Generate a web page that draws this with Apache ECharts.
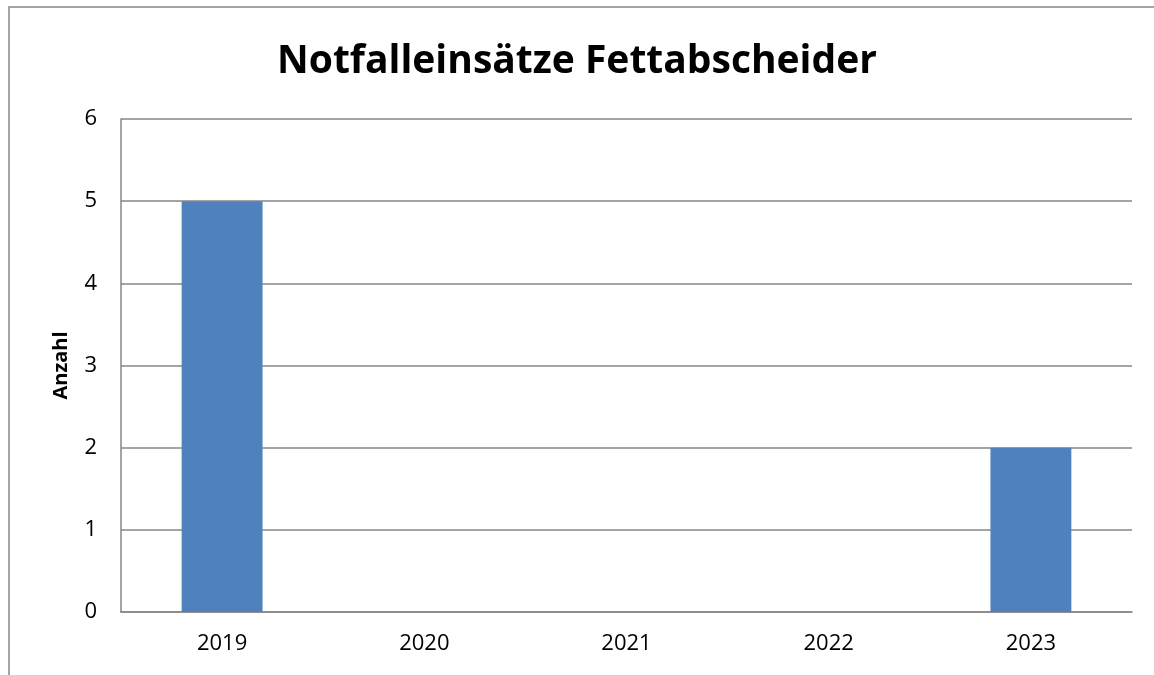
<!DOCTYPE html>
<html>
<head>
<meta charset="utf-8">
<script src="https://cdn.jsdelivr.net/npm/echarts@6/dist/echarts.min.js"></script>
<style>
  html, body { margin: 0; padding: 0; background: #fff; }
  #chart { width: 1154px; height: 675px; }
</style>
</head>
<body>
<div id="chart"></div>
<script>
const years = ['2019', '2020', '2021', '2022', '2023']
const einsaetze = [5, 0, 0, 0, 2]
const yTicks = { min: 0, max: 6, interval: 1 }

const chart = echarts.init(document.getElementById('chart'))

const option = {
  animation: false,
  backgroundColor: '#fff',
  graphic: [
    {
      type: 'rect',
      shape: { x: 9, y: 7, width: 1200, height: 700 },
      style: { fill: 'none', stroke: '#868686', lineWidth: 1.5 },
      silent: true
    }
  ],
  title: {
    text: 'Notfalleinsätze Fettabscheider',
    left: 'center',
    top: 37,
    textStyle: {
      fontFamily: 'Open Sans',
      fontWeight: 'bold',
      fontSize: 39,
      color: '#000'
    }
  },
  grid: {
    left: 121,
    right: 22,
    top: 119,
    bottom: 63
  },
  xAxis: {
    type: 'category',
    data: years,
    axisLine: { lineStyle: { color: '#868686', width: 1.5 } },
    axisTick: { show: false },
    axisLabel: {
      color: '#000',
      fontSize: 22,
      fontFamily: 'Open Sans',
      margin: 21
    }
  },
  yAxis: {
    type: 'value',
    min: yTicks.min,
    max: yTicks.max,
    interval: yTicks.interval,
    name: 'Anzahl',
    nameLocation: 'middle',
    nameGap: 50,
    nameTextStyle: {
      color: '#000',
      fontWeight: 'bold',
      fontSize: 20,
      fontFamily: 'Open Sans'
    },
    axisLine: { show: true, lineStyle: { color: '#868686', width: 1.5 } },
    axisTick: { show: false },
    splitLine: { lineStyle: { color: '#868686', width: 1.5 } },
    axisLabel: {
      color: '#000',
      fontSize: 22,
      fontFamily: 'Open Sans',
      margin: 24
    }
  },
  series: [
    {
      type: 'bar',
      data: einsaetze,
      barWidth: '40%',
      itemStyle: { color: '#4F81BD' }
    }
  ]
}

chart.setOption(option)
</script>
</body>
</html>
